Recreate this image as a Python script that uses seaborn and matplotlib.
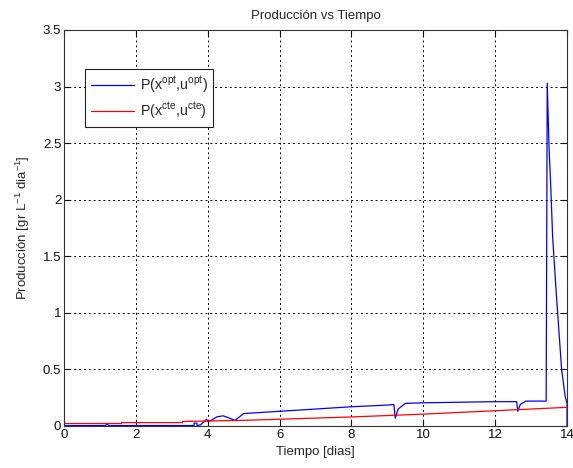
import matplotlib
matplotlib.use("Agg")
import matplotlib.pyplot as plt
import seaborn as sns
import pandas as pd

# Data
t_opt = [0.0, 1.15, 1.18, 1.22, 1.25, 3.6, 3.62, 3.62, 3.7, 3.7, 3.8, 3.97, 4.0, 4.1, 4.25, 4.43, 4.6, 4.76,
         5.0, 5.5, 6.0, 7.0, 8.0, 9.0, 9.18, 9.22, 9.3, 9.5, 10.0, 11.0, 12.0, 12.6, 12.63, 12.7, 12.85,
         13.42, 13.45, 13.5, 13.55, 13.6, 13.7, 13.85, 13.95, 14.0, 14.0]
p_opt = [0.004, 0.004, 0.012, 0.012, 0.004, 0.004, 0.004, 0.025, 0.025, 0.004, 0.01, 0.06, 0.04, 0.05, 0.08, 0.09, 0.07, 0.05,
         0.11, 0.12, 0.13, 0.15, 0.17, 0.185, 0.19, 0.07, 0.15, 0.20, 0.205, 0.21, 0.215, 0.215, 0.13, 0.19, 0.22,
         0.22, 3.03, 2.46, 2.1, 1.67, 1.18, 0.5, 0.26, 0.2, 0.0]

t_cte = [0.0, 1.6, 1.6, 3.3, 3.3, 5.0, 6.0, 8.0, 10.0, 12.0, 14.0]
p_cte = [0.022, 0.022, 0.03, 0.03, 0.04, 0.05, 0.06, 0.08, 0.105, 0.135, 0.165]

x_ticks = [0, 2, 4, 6, 8, 10, 12, 14]
x_labels = ["0", "2", "4", "6", "8", "10", "12", "14"]
y_ticks = [0, 0.5, 1, 1.5, 2, 2.5, 3, 3.5]
y_labels = ["0", "0.5", "1", "1.5", "2", "2.5", "3", "3.5"]

label_opt = r"P(x$^{opt}$,u$^{opt}$)"
label_cte = r"P(x$^{cte}$,u$^{cte}$)"

sns.set_theme(style="white")
plt.rcParams["font.family"] = ["Liberation Sans", "DejaVu Sans"]
plt.rcParams["mathtext.default"] = "regular"

df_opt = pd.DataFrame({"t": t_opt, "p": p_opt})
df_cte = pd.DataFrame({"t": t_cte, "p": p_cte})

fig = plt.figure(figsize=(5.73, 4.68), dpi=100)
ax = fig.add_axes([64 / 573, 42 / 468, (567 - 64) / 573, (426 - 30) / 468])

sns.lineplot(data=df_opt, x="t", y="p", ax=ax, color="#0000ff", lw=0.9, sort=False,
             estimator=None, label=label_opt)
sns.lineplot(data=df_cte, x="t", y="p", ax=ax, color="#ff0000", lw=0.9, sort=False,
             estimator=None, label=label_cte)

ax.set_xlim(0, 14)
ax.set_ylim(0, 3.5)
ax.set_xticks(x_ticks)
ax.set_xticklabels(x_labels)
ax.set_yticks(y_ticks)
ax.set_yticklabels(y_labels)
ax.tick_params(direction="in", length=4, width=0.8, labelsize=9.5, colors="#111111",
               top=True, right=True, bottom=True, left=True, pad=2)
ax.grid(True, color="black", linestyle=(0, (2, 3)), linewidth=0.7)
for s in ax.spines.values():
    s.set_visible(True)
    s.set_color("#333333")
    s.set_linewidth(0.8)

ax.set_xlabel("Tiempo [dias]", fontsize=9.5, labelpad=4)
ax.set_ylabel("Producción [gr L$^{-1}$ dia$^{-1}$]", fontsize=9.5, labelpad=8)
ax.set_title("Producción vs Tiempo", fontsize=9.5, pad=8)

leg = ax.legend(loc="upper left", bbox_to_anchor=(14 / 503, 0.92), fontsize=10.3,
                frameon=True, fancybox=False, edgecolor="#222222", framealpha=1,
                handlelength=3.0, borderpad=0.4, labelspacing=0.4, handletextpad=0.4)
leg.get_frame().set_linewidth(0.8)

fig.savefig("out.png", dpi=100, facecolor="white")
